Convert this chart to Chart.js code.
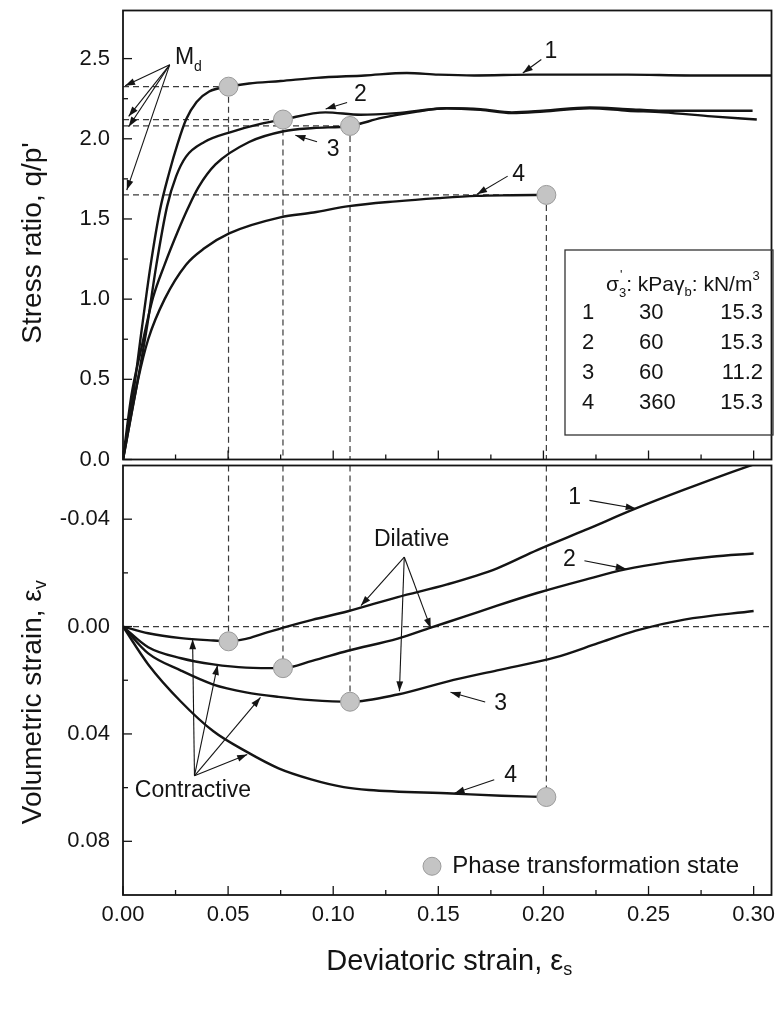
<!DOCTYPE html>
<html>
<head>
<meta charset="utf-8">
<script src="https://cdn.jsdelivr.net/npm/chart.js@4.4.0/dist/chart.umd.min.js"></script>
<style>
  html, body { margin: 0; padding: 0; background: #fff; }
  #wrap { position: relative; width: 782px; height: 1016px; }
  #wrap canvas { position: absolute; left: 0; }
  #top { top: 0; width: 782px; height: 470px; }
  #bot { top: 455px; width: 782px; height: 561px; }
</style>
</head>
<body>
<div id="wrap">
  <canvas id="top" width="782" height="470"></canvas>
  <canvas id="bot" width="782" height="561"></canvas>
</div>
<script>
/* ── Data: stress ratio q/p' vs deviatoric strain ───────────── */
const s1 = [0, .005, .009, .013, .0175, .022, .026, .030, .035, .041, .0502, .06, .075, .092, .115, .135, .15, .167, .195, .24, .27, .3085];
const q1 = [0, .42, .82, 1.2, 1.55, 1.79, 1.97, 2.12, 2.23, 2.295, 2.325, 2.345, 2.36, 2.38, 2.395, 2.41, 2.40, 2.395, 2.40, 2.40, 2.395, 2.395];
const s2 = [0, .0057, .0112, .0159, .021, .0253, .030, .0387, .0513, .0654, .0761, .0963, .113, .13, .154, .17, .185, .2, .222, .24, .257, .28, .2995];
const q2 = [0, .40, .81, 1.215, 1.58, 1.767, 1.889, 1.98, 2.042, 2.093, 2.12, 2.165, 2.15, 2.16, 2.19, 2.185, 2.165, 2.175, 2.195, 2.185, 2.175, 2.175, 2.175];
const s3 = [0, .004, .0085, .0143, .0198, .026, .031, .036, .044, .06, .0764, .0906, .108, .123, .14, .154, .17, .185, .2, .222, .24, .257, .28, .3015];
const q3 = [0, .40, .68, 1.01, 1.215, 1.42, 1.57, 1.70, 1.84, 1.98, 2.047, 2.067, 2.08, 2.13, 2.17, 2.19, 2.18, 2.16, 2.17, 2.19, 2.175, 2.165, 2.14, 2.12];
const s4 = [0, .0072, .012, .0198, .030, .0387, .0505, .0748, .0906, .1075, .13, .15, .168, .185, .2014];
const q4 = [0, .50, .75, 1.0, 1.215, 1.317, 1.41, 1.51, 1.54, 1.58, 1.61, 1.63, 1.644, 1.648, 1.65];

/* ── Data: volumetric strain vs deviatoric strain ───────────── */
const e1 = [0, .012, .0276, .043, .0502, .0585, .066, .078, .09, .107, .1307, .1542, .178, .197, .22, .244, .267, .297, .3085];
const v1 = [0, .0025, .0043, .0052, .0055, .0046, .0028, 0, -.0025, -.0057, -.011, -.0157, -.0217, -.0285, -.036, -.044, -.051, -.0596, -.0625];
const e2 = [0, .012, .0276, .043, .0585, .0761, .09, .107, .1307, .1464, .162, .178, .197, .22, .239, .259, .28, .30];
const v2 = [0, .0077, .0118, .0141, .0153, .0155, .0128, .009, .0045, .0004, -.0036, -.0078, -.0125, -.0175, -.0213, -.024, -.026, -.0272];
const e3 = [0, .012, .0276, .043, .0585, .074, .0895, .108, .1307, .1542, .178, .2061, .226, .244, .267, .30];
const v3 = [0, .010, .0164, .0216, .0245, .0262, .0274, .028, .0253, .0205, .0163, .0114, .0062, .0015, -.0026, -.0058];
const e4 = [0, .012, .0276, .043, .0585, .074, .0895, .105, .117, .1566, .18, .2014];
const v4 = [0, .0141, .028, .039, .0465, .0528, .0569, .0598, .0609, .0622, .063, .0635];

/* ── Phase transformation states ───────────────────────────── */
const ptStrain = [.0502, .0761, .108, .2014];
const ptRatio  = [2.325, 2.12, 2.08, 1.65];
const ptVol    = [.0055, .0155, .028, .0635];

/* ── Axes / ticks ─────────────────────────────────────────── */
const xTicks = [0, .05, .1, .15, .2, .25, .3];
const qTicks = [0, .5, 1, 1.5, 2, 2.5];
const vTicks = [-.04, 0, .04, .08];
const X_MAX = .3085, Q_MAX = 2.8, V_MIN = -.06, V_MAX = .10;

/* ── Test table ───────────────────────────────────────────── */
const tableRows = [['1', '30', '15.3'], ['2', '60', '15.3'], ['3', '60', '11.2'], ['4', '360', '15.3']];

const FONT = '"Liberation Sans", Arial, Helvetica, sans-serif';
const ink = '#141414';
Chart.defaults.font.family = FONT;
Chart.defaults.color = ink;

/* ── Drawing helpers ──────────────────────────────────────── */
function rich(ctx, segs, x, y, align) {
  let w = 0;
  segs.forEach(s => { ctx.font = s[1] + 'px ' + FONT; w += ctx.measureText(s[0]).width; });
  let cx = align === 'center' ? x - w / 2 : align === 'right' ? x - w : x;
  segs.forEach(s => {
    ctx.font = s[1] + 'px ' + FONT;
    ctx.fillText(s[0], cx, y + (s[2] || 0));
    cx += ctx.measureText(s[0]).width;
  });
}

function arrow(ctx, x0, y0, x1, y1) {
  ctx.beginPath(); ctx.moveTo(x0, y0); ctx.lineTo(x1, y1); ctx.stroke();
  const a = Math.atan2(y1 - y0, x1 - x0), L = 10, W = 3.4;
  const bx = x1 - L * Math.cos(a), by = y1 - L * Math.sin(a);
  ctx.beginPath();
  ctx.moveTo(x1, y1);
  ctx.lineTo(bx + W * Math.sin(a), by - W * Math.cos(a));
  ctx.lineTo(bx - W * Math.sin(a), by + W * Math.cos(a));
  ctx.closePath(); ctx.fill();
}

/* frame and inward tick marks */
const frame = {
  id: 'frame',
  afterDatasetsDraw(chart, args, o) {
    const {ctx, chartArea: a, scales} = chart;
    const line = (x0, y0, x1, y1) => { ctx.beginPath(); ctx.moveTo(x0, y0); ctx.lineTo(x1, y1); ctx.stroke(); };
    ctx.save();
    ctx.strokeStyle = ink;
    ctx.lineWidth = 1.3;
    xTicks.forEach((v, i) => {
      const p = scales.x.getPixelForValue(v);
      line(p, a.bottom, p, a.bottom - 9);
      if (i < xTicks.length - 1) {
        const m = scales.x.getPixelForValue(v + (xTicks[1] - xTicks[0]) / 2);
        line(m, a.bottom, m, a.bottom - 5);
      }
    });
    const yt = o.ticks;
    yt.forEach((v, i) => {
      const p = scales.y.getPixelForValue(v);
      line(a.left, p, a.left + 9, p);
      if (i < yt.length - 1) {
        const m = scales.y.getPixelForValue(v + (yt[1] - yt[0]) / 2);
        line(a.left, m, a.left + 5, m);
      }
    });
    ctx.lineWidth = 1.8;
    ctx.strokeRect(a.left, a.top, a.right - a.left, a.bottom - a.top);
    ctx.restore();
  }
};

/* titles, labels, arrows, table, legend */
const notes = {
  id: 'notes',
  afterDraw(chart, args, o) {
    const {ctx, chartArea: a} = chart, xs = chart.scales.x, ys = chart.scales.y;
    const P = (x, y) => [xs.getPixelForValue(x), ys.getPixelForValue(y)];
    ctx.save();
    ctx.fillStyle = ink; ctx.strokeStyle = ink; ctx.lineWidth = 1.1;
    ctx.textBaseline = 'middle'; ctx.textAlign = 'left';
    o.arrows.forEach(r => { const p = P(r[0], r[1]), q = P(r[2], r[3]); arrow(ctx, p[0], p[1], q[0], q[1]); });
    o.labels.forEach(l => { const p = P(l[1], l[2]); rich(ctx, l[0], p[0], p[1], 'center'); });

    // y title
    ctx.save();
    ctx.translate(33, (a.top + a.bottom) / 2 + o.yShift);
    ctx.rotate(-Math.PI / 2);
    rich(ctx, o.yTitle, 0, 0, 'center');
    ctx.restore();

    if (o.xTitle) rich(ctx, o.xTitle, (a.left + a.right) / 2 + 2, a.bottom + 67, 'center');
    if (o.extra) o.extra(ctx, P, a);
    ctx.restore();
  }
};

function drawTable(ctx) {
  ctx.lineWidth = 1.3; ctx.strokeStyle = '#333';
  ctx.strokeRect(565, 250, 208, 185);
  ctx.fillStyle = ink;
  let x = 606; const y = 285;
  const put = (t, size, dy) => { ctx.font = size + 'px ' + FONT; ctx.fillText(t, x, y + dy); x += ctx.measureText(t).width; };
  put('σ', 21, 0);
  ctx.font = '13px ' + FONT; ctx.fillText("'", x + 1, y - 10);
  put('3', 13, 8);
  put(': kPa', 21, 0);
  put('γ', 21, 0);
  put('b', 13, 7);
  put(': kN/m', 21, 0);
  put('3', 13, -9);
  ctx.font = '22px ' + FONT;
  tableRows.forEach((r, i) => {
    const ry = 313 + i * 30;
    ctx.textAlign = 'left';
    ctx.fillText(r[0], 582, ry);
    ctx.fillText(r[1], 639, ry);
    ctx.textAlign = 'right';
    ctx.fillText(r[2], 763, ry);
  });
  ctx.textAlign = 'left';
}

function drawKey(ctx, P) {
  const c = P(.147, .0893), t = P(.1566, .0893);
  ctx.beginPath(); ctx.arc(c[0], c[1], 9, 0, Math.PI * 2);
  ctx.fillStyle = '#c4c4c4'; ctx.fill();
  ctx.strokeStyle = '#9a9a9a'; ctx.lineWidth = 1; ctx.stroke();
  ctx.fillStyle = ink;
  rich(ctx, [['Phase transformation state', 24]], t[0], t[1], 'left');
}

/* ── Dataset builders ─────────────────────────────────────── */
const zip = (xs, ys) => xs.map((x, i) => ({x, y: ys[i]}));
const curve = (xs, ys) => ({
  data: zip(xs, ys), borderColor: ink, borderWidth: 2.4, pointRadius: 0,
  cubicInterpolationMode: 'monotone', fill: false, order: 1
});
const guide = pts => ({
  data: pts, borderColor: '#3a3a3a', borderWidth: 1.2, borderDash: [6, 4],
  pointRadius: 0, tension: 0, fill: false, order: 2
});
const dots = (xs, ys) => ({
  data: zip(xs, ys), showLine: false, pointRadius: 9.5, pointHoverRadius: 9.5,
  pointBackgroundColor: '#c4c4c4', pointBorderColor: '#9a9a9a', pointBorderWidth: 1, order: 0
});

function opts(c) {
  return {
    responsive: false, animation: false, events: [],
    layout: { padding: c.pad },
    plugins: {
      legend: { display: false }, tooltip: { enabled: false },
      frame: { ticks: c.yTicks },
      notes: c.notes
    },
    scales: {
      x: {
        type: 'linear', min: 0, max: X_MAX, display: c.showX,
        afterBuildTicks: s => { s.ticks = xTicks.map(v => ({value: v})); },
        ticks: { font: { size: 22 }, color: ink, padding: 7, maxRotation: 0, autoSkip: false, callback: v => v.toFixed(2) },
        grid: { display: false, drawTicks: false }, border: { display: false },
        afterFit: s => { if (c.showX) s.height = 121; s.paddingLeft = 0; s.paddingRight = 0; }
      },
      y: {
        type: 'linear', min: c.yMin, max: c.yMax, reverse: !!c.reverse,
        afterBuildTicks: s => { s.ticks = c.yTicks.map(v => ({value: v})); },
        ticks: { font: { size: 22 }, color: ink, padding: 13, autoSkip: false, callback: v => v.toFixed(c.dec) },
        grid: { display: false, drawTicks: false }, border: { display: false },
        afterFit: s => { s.width = 123; s.paddingTop = 0; s.paddingBottom = 0; }
      }
    }
  };
}

/* ── Upper panel ──────────────────────────────────────────── */
const topSets = [dots(ptStrain, ptRatio), curve(s1, q1), curve(s2, q2), curve(s3, q3), curve(s4, q4)];
ptStrain.forEach((x, i) => {
  topSets.push(guide([{x: 0, y: ptRatio[i]}, {x, y: ptRatio[i]}]));
  topSets.push(guide([{x, y: ptRatio[i]}, {x, y: 0}]));
});

new Chart(document.getElementById('top'), {
  type: 'line',
  data: { datasets: topSets },
  options: opts({
    pad: { left: 0, right: 5, top: 7, bottom: 5 }, showX: false,
    yMin: 0, yMax: Q_MAX, yTicks: qTicks, dec: 1,
    notes: {
      yTitle: [["Stress ratio, q/p'", 28]], yShift: 8,
      labels: [
        [[['1', 23]], .2036, 2.543],
        [[['2', 23]], .1129, 2.273],
        [[['3', 23]], .1, 1.93],
        [[['4', 23]], .1882, 1.777],
        [[['M', 23], ['d', 14, 9]], .0311, 2.505]
      ],
      arrows: [
        [.199, 2.494, .1902, 2.41],
        [.1066, 2.226, .0964, 2.186],
        [.0923, 1.981, .082, 2.022],
        [.183, 1.767, .1684, 1.654],
        [.0222, 2.461, .001, 2.33],
        [.0222, 2.461, .0027, 2.14],
        [.0222, 2.461, .0027, 2.075],
        [.0222, 2.461, .0018, 1.68]
      ],
      extra: ctx => drawTable(ctx)
    }
  }),
  plugins: [frame, notes]
});

/* ── Lower panel ──────────────────────────────────────────── */
const botSets = [dots(ptStrain, ptVol), curve(e1, v1), curve(e2, v2), curve(e3, v3), curve(e4, v4),
  guide([{x: 0, y: 0}, {x: X_MAX, y: 0}])];
ptStrain.forEach((x, i) => botSets.push(guide([{x, y: V_MIN}, {x, y: ptVol[i]}])));

new Chart(document.getElementById('bot'), {
  type: 'line',
  data: { datasets: botSets },
  options: opts({
    pad: { left: 0, right: 5, top: 10, bottom: 0 }, showX: true,
    yMin: V_MIN, yMax: V_MAX, reverse: true, yTicks: vTicks, dec: 2,
    notes: {
      yTitle: [['Volumetric strain, ε', 28], ['v', 18, 8]], yShift: 22,
      xTitle: [['Deviatoric strain, ε', 29], ['s', 18, 8]],
      labels: [
        [[['1', 23]], .2148, -.0482],
        [[['2', 23]], .2124, -.0249],
        [[['3', 23]], .1797, .0289],
        [[['4', 23]], .1844, .0557],
        [[['Dilative', 23]], .1373, -.0322],
        [[['Contractive', 23]], .0333, .0612]
      ],
      arrows: [
        [.2219, -.047, .2439, -.044],
        [.2195, -.0245, .2392, -.0215],
        [.1723, .0281, .1558, .0245],
        [.1766, .0571, .1577, .0621],
        [.1338, -.0259, .1132, -.0078],
        [.1338, -.0259, .1464, .0006],
        [.1338, -.0259, .1315, .0241],
        [.034, .0556, .0331, .0047],
        [.034, .0556, .045, .0143],
        [.034, .0556, .0654, .0264],
        [.034, .0556, .0591, .0477]
      ],
      extra: (ctx, P) => drawKey(ctx, P)
    }
  }),
  plugins: [frame, notes]
});
</script>
</body>
</html>
